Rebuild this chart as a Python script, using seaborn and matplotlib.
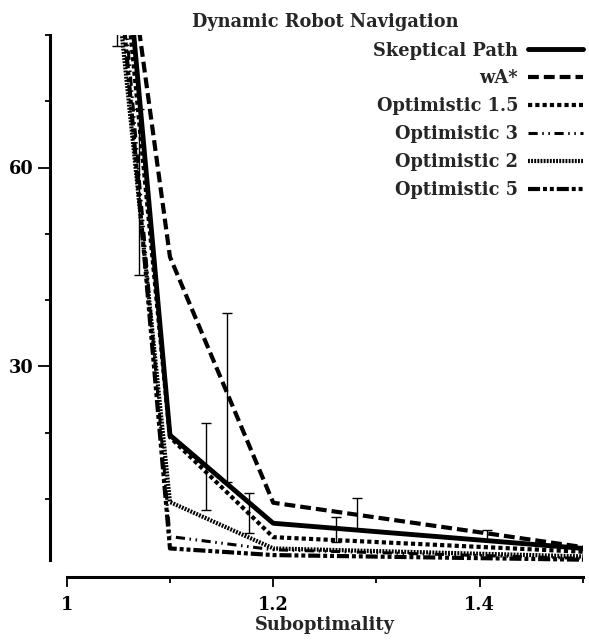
import numpy as np
import pandas as pd
import matplotlib
matplotlib.use("Agg")
import matplotlib.pyplot as plt
import seaborn as sns
from matplotlib.ticker import FixedLocator, FixedFormatter, NullFormatter

sns.set_style("ticks")
plt.rcParams['font.family'] = ['DejaVu Serif']
plt.rcParams['font.weight'] = 'bold'

# ---------------- data ----------------
title = "Dynamic Robot Navigation"
xlabel = "Suboptimality"
series_names = ["Skeptical Path", "wA*", "Optimistic 1.5",
                "Optimistic 3", "Optimistic 2", "Optimistic 5"]
x_pts = [1.0, 1.1, 1.2, 1.5]
skeptical = [192, 19.6, 6.3, 2.5]
wastar = [161, 46.5, 9.4, 2.7]
opt15 = [179, 19.3, 4.2, 2.0]
opt3 = [186, 4.3, 2.3, 1.0]
opt2 = [161, 9.5, 2.5, 1.3]
opt5 = [180, 2.5, 1.5, 0.8]

err_x = [1.049, 1.07, 1.135, 1.155, 1.177, 1.261, 1.281, 1.407]
err_mean = [100, 56.3, 14.85, 25.25, 7.85, 5.35, 7.7, 4.55]
err_half = [21.6, 12.6, 6.55, 12.75, 3.05, 1.85, 2.4, 0.75]

x_ticks_major = [1.0, 1.2, 1.4]
x_tick_labels = ["1", "1.2", "1.4"]
x_ticks_minor = [1.1, 1.3, 1.5]
y_ticks_major = [30, 60]
y_tick_labels = ["30", "60"]
y_ticks_minor = [10, 20, 40, 50, 70, 80]

values = [skeptical, wastar, opt15, opt3, opt2, opt5]
df = pd.DataFrame({
    "x": np.tile(x_pts, len(series_names)),
    "y": np.concatenate(values),
    "series": np.repeat(series_names, len(x_pts)),
})

styles = {
    "Skeptical Path": dict(lw=3.5, ls="-"),
    "wA*": dict(lw=3.0, ls=(0, (2.6, 1.2))),
    "Optimistic 1.5": dict(lw=3.0, ls=(0, (1.0, 0.75))),
    "Optimistic 3": dict(lw=2.2, ls=(0, (3.0, 1.5, 0.5, 1.5, 0.5, 1.5))),
    "Optimistic 2": dict(lw=3.0, ls=(0, (0.45, 0.3))),
    "Optimistic 5": dict(lw=3.0, ls=(0, (2.9, 0.7, 0.95, 0.7, 0.95, 0.7))),
}

FS = 12.8
W, H = 589, 642
fig = plt.figure(figsize=(W / 100, H / 100), dpi=100)
ax = fig.add_axes([66.7 / W, 77 / H, (583 - 66.7) / W, (565 - 35) / H])

for name in series_names:
    st = styles[name]
    sns.lineplot(data=df[df["series"] == name], x="x", y="y", ax=ax,
                 color="black", linewidth=st["lw"], linestyle=st["ls"],
                 label=name, estimator=None, sort=False)

ax.errorbar(err_x, err_mean, yerr=err_half, fmt="none", ecolor="black",
            elinewidth=1.0, capsize=3.5, capthick=1.0)

ax.set_xlim(1.0, 1.5)
ax.set_ylim(0, 80)

for s in ["top", "right"]:
    ax.spines[s].set_visible(False)
ax.spines["left"].set_position(("outward", 12))
ax.spines["bottom"].set_position(("outward", 8.6))
ax.spines["left"].set_bounds(0.75, 80)
ax.spines["bottom"].set_bounds(1.0, 1.5)
for s in ["left", "bottom"]:
    ax.spines[s].set_linewidth(2.2)
    ax.spines[s].set_color("black")

ax.xaxis.set_major_locator(FixedLocator(x_ticks_major))
ax.xaxis.set_major_formatter(FixedFormatter(x_tick_labels))
ax.xaxis.set_minor_locator(FixedLocator(x_ticks_minor))
ax.xaxis.set_minor_formatter(NullFormatter())
ax.yaxis.set_major_locator(FixedLocator(y_ticks_major))
ax.yaxis.set_major_formatter(FixedFormatter(y_tick_labels))
ax.yaxis.set_minor_locator(FixedLocator(y_ticks_minor))
ax.yaxis.set_minor_formatter(NullFormatter())

ax.tick_params(axis="x", which="major", length=7.5, width=1.3, pad=6,
               labelsize=FS, colors="black", direction="out")
ax.tick_params(axis="x", which="minor", length=4.3, width=1.3, direction="out", colors="black")
ax.tick_params(axis="y", which="major", length=8.6, width=1.3, pad=3.0,
               labelsize=FS, colors="black", direction="out")
ax.tick_params(axis="y", which="minor", length=3.6, width=1.3, direction="out", colors="black")
for lab in ax.get_xticklabels() + ax.get_yticklabels():
    lab.set_fontweight("bold")

ax.set_xlabel("")
ax.set_ylabel("")

fig.text((66.7 + 583) / 2 / W, 1 - 27 / H, title, ha="center", va="baseline",
         fontsize=FS, fontweight="bold")
fig.text((66.7 + 583) / 2 / W, 1 - 630 / H, xlabel, ha="center", va="baseline",
         fontsize=FS, fontweight="bold")

handles, labels = ax.get_legend_handles_labels()
leg = ax.legend(handles, labels, loc="upper right",
                bbox_to_anchor=(583 / W, 1 - 41.5 / H), bbox_transform=fig.transFigure,
                frameon=False, markerfirst=False, fontsize=FS,
                handlelength=3.1, handletextpad=0.55, labelspacing=0.56,
                borderpad=0, borderaxespad=0)
for t in leg.get_texts():
    t.set_fontweight("bold")

fig.savefig("out.png", dpi=100)
